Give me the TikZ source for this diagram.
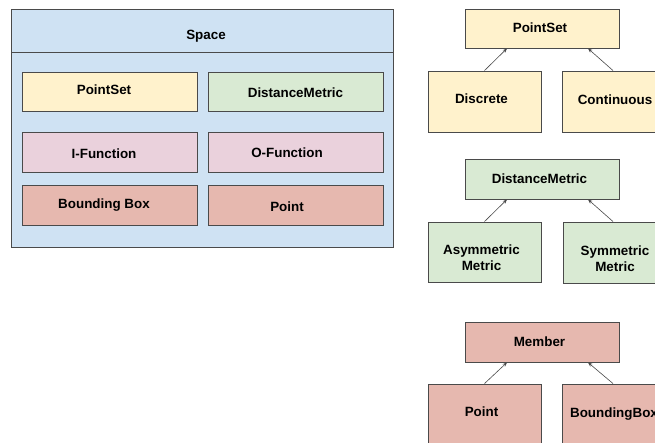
\documentclass[tikz,border=0pt]{standalone}
\usepackage{fontspec}
\setmainfont{Liberation Sans}
\usetikzlibrary{arrows.meta}

\definecolor{spaceblue}{HTML}{CFE2F3}
\definecolor{setyellow}{HTML}{FFF2CC}
\definecolor{metricgreen}{HTML}{D9EAD3}
\definecolor{funcpink}{HTML}{EAD1DC}
\definecolor{memberred}{HTML}{E6B8AF}
\definecolor{edgegray}{HTML}{4A4A4A}

\tikzset{
  box/.style={draw=edgegray, line width=0.9pt, rectangle, inner sep=0pt},
  lbl/.style={font=\bfseries\fontsize{13.4}{16}\selectfont, inner sep=0pt,
              text height=9.6pt, text depth=0pt, text=black},
  lbltwo/.style={font=\bfseries\fontsize{13.4}{16}\selectfont, inner sep=0pt,
              align=center, text=black},
  isa/.style={draw=edgegray, line width=0.6pt,
              -{Stealth[length=4.5pt,width=3.5pt]}},
}

% box given by its corners: name, x1, y1, x2, y2, fill
\newcommand{\boxat}[6]{%
  \node[box, fill=#6, minimum width={#4-#2}, minimum height={#5-#3}]
    (#1) at ({(#2+#4)/2},{(#3+#5)/2}) {};}

\begin{document}
\begin{tikzpicture}[x=1pt,y=-1pt]
\useasboundingbox (0,0) rectangle (655,443);
\clip (0,0) rectangle (655,443);

% ---- the Space container ----
\boxat{space}{11}{9}{393}{247}{spaceblue}
\coordinate (hl) at (11,52);
\coordinate (hr) at (393,52);
\draw[draw=edgegray, line width=0.9pt] (hl) -- (hr);
\node[lbl] (spacet) at (206,35) {Space};

\boxat{sps}{22}{72}{197}{111}{setyellow}
\node[lbl] (spst) at (104,90) {PointSet};
\boxat{sdm}{208}{72}{383}{111}{metricgreen}
\node[lbl] (sdmt) at (295.5,93) {DistanceMetric};

\boxat{sif}{22}{132}{197}{172}{funcpink}
\node[lbl] (sift) at (104,154) {I-Function};
\boxat{sof}{208}{132}{383}{172}{funcpink}
\node[lbl] (soft) at (287,153) {O-Function};

\boxat{sbb}{22}{185}{197}{225}{memberred}
\node[lbl] (sbbt) at (104,204) {Bounding Box};
\boxat{spt}{208}{185}{383}{225}{memberred}
\node[lbl] (sptt) at (287,207) {Point};

% ---- PointSet hierarchy ----
\boxat{ps}{465}{9}{619}{48}{setyellow}
\node[lbl] (pst) at (540,28) {PointSet};
\boxat{disc}{428}{71}{541}{132}{setyellow}
\node[lbl] (disct) at (481.5,99) {Discrete};
\boxat{cont}{562}{71}{675}{132}{setyellow}
\node[lbl] (contt) at (615,100) {Continuous};
\draw[isa] (disc.north) -- ([xshift=-35pt]ps.south);
\draw[isa] ([xshift=-5.5pt]cont.north) -- ([xshift=46pt]ps.south);

% ---- DistanceMetric hierarchy ----
\boxat{dm}{465}{159}{619}{199}{metricgreen}
\node[lbl] (dmt) at (539.5,179) {DistanceMetric};
\boxat{asym}{428}{222}{541}{282}{metricgreen}
\node[lbltwo] (asymt) at (481.5,258) {Asymmetric\\Metric};
\boxat{sym}{563}{222}{676}{283}{metricgreen}
\node[lbltwo] (symt) at (615,259) {Symmetric\\Metric};
\draw[isa] (asym.north) -- ([xshift=-35pt]dm.south);
\draw[isa] ([xshift=-6.5pt]sym.north) -- ([xshift=46pt]dm.south);

% ---- Member hierarchy ----
\boxat{mem}{465}{322}{619}{362}{memberred}
\node[lbl] (memt) at (539.5,342) {Member};
\boxat{mpt}{428}{384}{541}{452}{memberred}
\node[lbl] (mptt) at (481.5,412) {Point};
\boxat{mbb}{562}{384}{675}{452}{memberred}
\node[lbl] (mbbt) at (614,412.5) {BoundingBox};
\draw[isa] (mpt.north) -- ([xshift=-35pt]mem.south);
\draw[isa] ([xshift=-5.5pt]mbb.north) -- ([xshift=46pt]mem.south);
\end{tikzpicture}
\end{document}
